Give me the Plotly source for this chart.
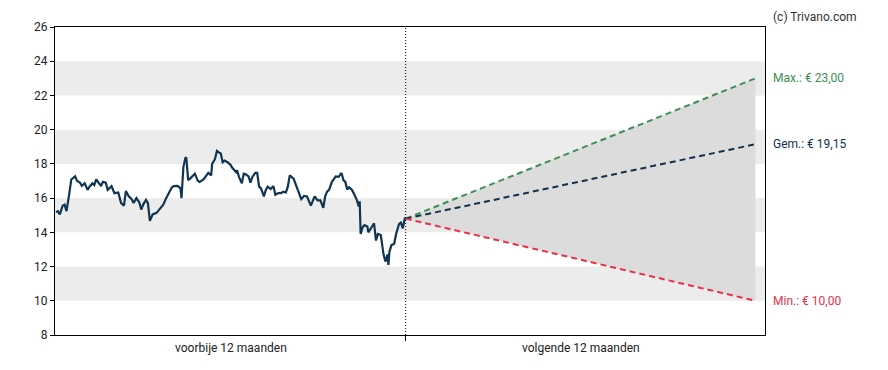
import plotly.graph_objects as go

# History: day offset (relative to today) and closing price
dagen = [-365, -363, -361, -358, -356, -354, -351, -349, -345, -343, -340, -338, -335, -332, -330,
         -327, -325, -323, -320, -318, -316, -313, -311, -307, -304, -300, -297, -294, -292, -289,
         -286, -284, -281, -278, -276, -274, -271, -269, -267, -264, -260, -257, -253, -250, -246,
         -244, -242, -238, -235, -234, -232, -230, -229, -227, -225, -222, -220, -217, -215, -211,
         -209, -206, -203, -202, -199, -197, -195, -193, -191, -189, -186, -183, -181, -177, -176,
         -174, -171, -169, -167, -164, -162, -160, -157, -155, -153, -151, -148, -146, -144, -141,
         -138, -136, -133, -130, -128, -125, -123, -121, -117, -114, -112, -109, -106, -103, -99,
         -97, -95, -92, -89, -86, -84, -82, -80, -77, -75, -73, -70, -67, -65, -63,
         -61, -59, -56, -53, -51, -49, -48, -47, -45, -43, -40, -39, -36, -33, -31,
         -29, -26, -25, -23, -21, -19, -18, -17, -15, -12, -10, -7, -5, -3, -1, 0]
koers = [15.18, 15.24, 15.05, 15.56, 15.62, 15.24, 16.29, 17.09, 17.27, 17.01, 16.91, 16.72, 16.86, 16.48, 16.67,
         16.86, 16.76, 17.10, 16.86, 16.70, 16.95, 16.90, 16.48, 16.70, 16.29, 16.33, 15.71, 15.56, 16.42, 16.10,
         15.94, 15.71, 16.00, 15.75, 15.33, 15.62, 15.90, 15.71, 14.67, 15.05, 15.14, 15.37, 15.62, 16.00, 16.48,
         16.63, 16.70, 16.72, 16.57, 16.00, 17.81, 18.34, 18.38, 17.05, 17.14, 17.33, 17.43, 17.01, 16.95, 17.09,
         17.27, 17.47, 17.33, 18.00, 18.29, 18.76, 18.67, 18.61, 18.10, 18.19, 18.10, 17.96, 17.77, 17.52, 17.62,
         17.24, 16.86, 17.43, 17.39, 17.27, 16.90, 17.24, 17.47, 17.47, 16.67, 16.57, 16.10, 16.48, 16.67, 16.53,
         16.70, 16.19, 16.29, 16.29, 16.38, 16.33, 16.67, 17.33, 17.14, 16.67, 16.38, 15.94, 16.13, 16.10, 15.56,
         15.81, 16.10, 15.87, 15.87, 15.43, 16.10, 16.38, 16.48, 16.95, 17.14, 17.27, 17.24, 17.47, 17.05, 16.95,
         16.51, 16.63, 16.48, 16.10, 15.90, 15.52, 15.81, 13.90, 14.29, 14.42, 14.34, 14.00, 14.29, 14.53, 13.52,
         13.90, 13.84, 13.33, 12.67, 12.29, 12.71, 12.10, 12.86, 13.24, 13.33, 13.90, 14.48, 14.57, 14.23, 14.80, 14.80]

# Forecast (12 months ahead)
prognose_dagen = [0, 365]
koers_nu = 14.80
koersdoel_max = 23.00
koersdoel_gem = 19.15
koersdoel_min = 10.00

label_max = "Max.: € 23,00"
label_gem = "Gem.: € 19,15"
label_min = "Min.: € 10,00"
label_links = "voorbije 12 maanden"
label_rechts = "volgende 12 maanden"
bron = "(c) Trivano.com"

y_ticks = [8, 10, 12, 14, 16, 18, 20, 22, 24, 26]
banden = [(10, 12), (14, 16), (18, 20), (22, 24)]

KL_MAX = "#3d8f55"
KL_GEM = "#14304f"
KL_MIN = "#e8304a"
KL_LIJN = "#0f3553"
FONT = "Roboto, Arial, sans-serif"

fig = go.Figure()

# cone fill
fig.add_trace(go.Scatter(x=prognose_dagen, y=[koers_nu, koersdoel_min], mode="lines",
                         line=dict(width=0, color="rgba(0,0,0,0)"), hoverinfo="skip", showlegend=False))
fig.add_trace(go.Scatter(x=prognose_dagen, y=[koers_nu, koersdoel_max], mode="lines",
                         line=dict(width=0, color="rgba(0,0,0,0)"), fill="tonexty",
                         fillcolor="#dcdcdc", hoverinfo="skip", showlegend=False))

for doel, kl in [(koersdoel_max, KL_MAX), (koersdoel_gem, KL_GEM), (koersdoel_min, KL_MIN)]:
    fig.add_trace(go.Scatter(x=prognose_dagen, y=[koers_nu, doel], mode="lines",
                             line=dict(color=kl, width=2, dash="6px,4px"), showlegend=False))

fig.add_trace(go.Scatter(x=dagen, y=koers, mode="lines",
                         line=dict(color=KL_LIJN, width=2.2), showlegend=False))

shapes = []
for lo, hi in banden:
    shapes.append(dict(type="rect", xref="paper", yref="y", x0=0, x1=1, y0=lo, y1=hi,
                       fillcolor="#ececec", line=dict(width=0), layer="below"))
shapes.append(dict(type="line", xref="x", yref="paper", x0=0, x1=0, y0=0, y1=1,
                   line=dict(color="#000000", width=1, dash="1px,2px")))

annotations = [
    dict(x=-182.5, y=0, xref="x", yref="paper", text=label_links, showarrow=False,
         yanchor="top", yshift=-4, font=dict(size=12, color="#222", family=FONT)),
    dict(x=182.5, y=0, xref="x", yref="paper", text=label_rechts, showarrow=False,
         yanchor="top", yshift=-4, font=dict(size=12, color="#222", family=FONT)),
    dict(x=1, y=koersdoel_max, xref="paper", yref="y", text=label_max, showarrow=False,
         xanchor="left", xshift=6, font=dict(size=12, color=KL_MAX, family=FONT)),
    dict(x=1, y=koersdoel_gem, xref="paper", yref="y", text=label_gem, showarrow=False,
         xanchor="left", xshift=6, font=dict(size=12, color=KL_GEM, family=FONT)),
    dict(x=1, y=koersdoel_min, xref="paper", yref="y", text=label_min, showarrow=False,
         xanchor="left", xshift=6, font=dict(size=12, color=KL_MIN, family=FONT)),
    dict(x=1, y=1, xref="paper", yref="paper", text=bron, showarrow=False,
         xanchor="left", yanchor="bottom", xshift=6, yshift=1,
         font=dict(size=12, color="#333", family=FONT)),
]

fig.update_layout(
    width=880, height=362,
    margin=dict(l=47, r=123, t=12, b=35),
    paper_bgcolor="white", plot_bgcolor="white",
    font=dict(family=FONT, size=12, color="#222"),
    shapes=shapes, annotations=annotations,
    showlegend=False,
)
fig.update_xaxes(range=[-366, 375], showgrid=False, zeroline=False,
                 showline=True, linecolor="#000", linewidth=1, mirror=True,
                 tickvals=[0], ticktext=[""], ticks="outside", ticklen=5, tickcolor="#000")
fig.update_yaxes(range=[8, 26], tickvals=y_ticks, showgrid=False, zeroline=False,
                 showline=True, linecolor="#000", linewidth=1, mirror=True,
                 ticks="outside", ticklen=4, tickcolor="#000",
                 tickfont=dict(size=12, color="#222", family=FONT))

fig.write_html("out.html")
